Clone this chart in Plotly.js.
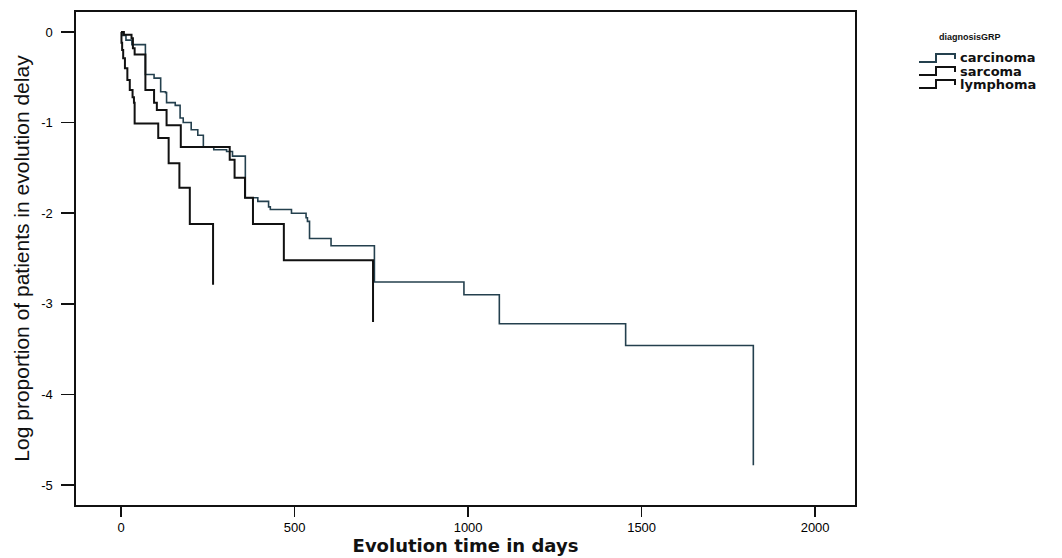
<!DOCTYPE html>
<html>
<head>
<meta charset="utf-8">
<script src="https://cdn.plot.ly/plotly-3.0.1.min.js"></script>
<style>
html,body{margin:0;padding:0;background:#fff;}
#chart{width:1062px;height:558px;}
</style>
</head>
<body>
<div id="chart"></div>
<script>
// Evolution time (days) at each step and log proportion after the step
const carcinomaDays = [0, 3, 14, 31, 70, 95, 114, 128, 131, 156, 170, 179, 202, 221, 237, 267, 304, 321, 358, 394, 425, 430, 491, 533, 537, 543, 605, 730, 988, 1090, 1454, 1822];
const carcinomaLog  = [0, -0.04, -0.09, -0.14, -0.47, -0.51, -0.66, -0.67, -0.78, -0.81, -0.95, -1.00, -1.08, -1.14, -1.27, -1.30, -1.32, -1.37, -1.83, -1.87, -1.93, -1.96, -2.00, -2.05, -2.09, -2.28, -2.36, -2.76, -2.90, -3.22, -3.46, -4.78];

const sarcomaDays = [0, 8, 30, 34, 39, 70, 95, 103, 131, 172, 313, 327, 357, 380, 469, 726];
const sarcomaLog  = [0, -0.03, -0.07, -0.18, -0.25, -0.64, -0.78, -0.86, -1.03, -1.27, -1.41, -1.61, -1.83, -2.12, -2.52, -3.20];

const lymphomaDays = [0, 1, 3, 6, 11, 18, 25, 33, 37, 39, 107, 137, 168, 198, 265];
const lymphomaLog  = [0, -0.12, -0.20, -0.29, -0.40, -0.53, -0.64, -0.72, -0.78, -1.01, -1.17, -1.45, -1.72, -2.12, -2.79];

const groupNames = ["carcinoma", "sarcoma", "lymphoma"];
const legendTitle = "diagnosisGRP";
const xTickVals = [0, 500, 1000, 1500, 2000];
const xTickText = ["0", "500", "1000", "1500", "2000"];
const yTickVals = [0, -1, -2, -3, -4, -5];
const yTickText = ["0", "-1", "-2", "-3", "-4", "-5"];

const groupColors = ["#24404e", "#111111", "#111111"];
const groupWidths = [1.6, 2, 2];

const traces = [
  {x: carcinomaDays, y: carcinomaLog, name: groupNames[0], mode: "lines",
   line: {shape: "hv", color: groupColors[0], width: groupWidths[0]}},
  {x: sarcomaDays, y: sarcomaLog, name: groupNames[1], mode: "lines",
   line: {shape: "hv", color: groupColors[1], width: groupWidths[1]}},
  {x: lymphomaDays, y: lymphomaLog, name: groupNames[2], mode: "lines",
   line: {shape: "hv", color: groupColors[2], width: groupWidths[2]}}
];

// plot frame in pixels
const W = 1062, H = 558;
const M = {l: 76, r: 207, t: 12, b: 53};
const pw = W - M.l - M.r, ph = H - M.t - M.b;
const px = v => (v - M.l) / pw;          // pixel x -> paper
const py = v => (H - M.b - v) / ph;      // pixel y -> paper

// hand-made legend (step glyphs + labels)
const legendRows = [58, 71, 84];
const shapes = [];
const annotations = [{
  xref: "paper", yref: "paper", x: px(970), y: py(37), xanchor: "center", yanchor: "middle",
  text: "<b>" + legendTitle + "</b>", showarrow: false,
  font: {family: "Liberation Sans, Arial, sans-serif", size: 9, color: "#111"}
}];
groupNames.forEach((g, i) => {
  const cy = legendRows[i];
  const pts = [[919, cy + 4], [936, cy + 4], [936, cy - 4], [955, cy - 4], [955, cy + 1]];
  const path = pts.map((p, k) => (k ? "L" : "M") + px(p[0]).toFixed(5) + "," + py(p[1]).toFixed(5)).join(" ");
  shapes.push({type: "path", xref: "paper", yref: "paper", path: path,
               line: {color: groupColors[i], width: 2}});
  annotations.push({xref: "paper", yref: "paper", x: px(958), y: py(cy), xanchor: "left", yanchor: "middle",
    text: "<b>" + g + "</b>", showarrow: false,
    font: {family: "DejaVu Sans, sans-serif", size: 13, color: "#111"}});
});

const axisFont = {family: "Liberation Sans, Arial, sans-serif", size: 13, color: "#000"};

const layout = {
  width: W, height: H,
  paper_bgcolor: "#ffffff", plot_bgcolor: "#ffffff",
  margin: M,
  showlegend: false,
  shapes: shapes,
  annotations: annotations,
  xaxis: {
    range: [-130, 2115],
    tickvals: xTickVals, ticktext: xTickText,
    ticks: "outside", ticklen: 10, tickwidth: 1.5, tickcolor: "#111",
    showline: true, mirror: true, linecolor: "#111", linewidth: 1.6,
    showgrid: false, zeroline: false,
    tickfont: axisFont,
    title: {text: "<b>Evolution time in days</b>", standoff: 4,
            font: {family: "DejaVu Sans, sans-serif", size: 18, color: "#111"}}
  },
  yaxis: {
    range: [-5.22, 0.22],
    tickvals: yTickVals, ticktext: yTickText,
    ticks: "outside", ticklen: 13, tickwidth: 1.5, tickcolor: "#111",
    ticklabelstandoff: 6,
    showline: true, mirror: true, linecolor: "#111", linewidth: 1.6,
    showgrid: false, zeroline: false,
    tickfont: axisFont,
    title: {text: "Log proportion of patients in evolution delay", standoff: 6,
            font: {family: "Liberation Sans, Arial, sans-serif", size: 21, color: "#111"}}
  }
};

Plotly.newPlot("chart", traces, layout, {displayModeBar: false, staticPlot: true});
</script>
</body>
</html>
